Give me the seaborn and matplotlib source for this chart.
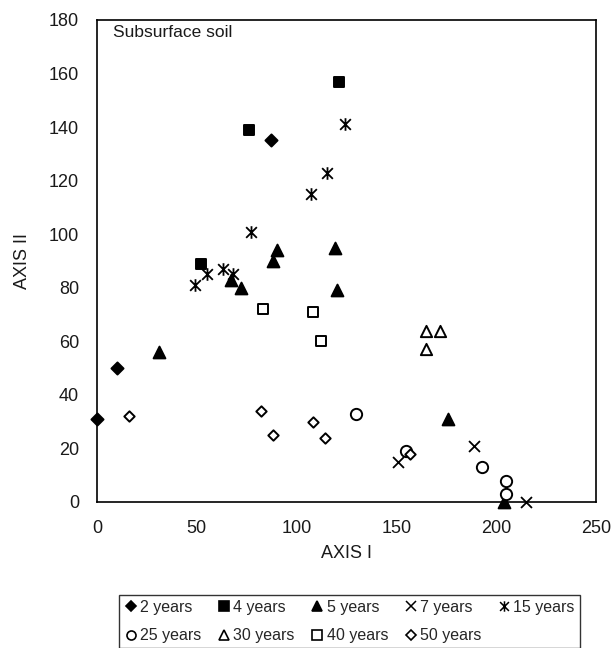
import numpy as np
import pandas as pd
import matplotlib
matplotlib.use("Agg")
import matplotlib.pyplot as plt
import seaborn as sns
from matplotlib.path import Path
from matplotlib.lines import Line2D

# Ordination scores (AXIS I, AXIS II) per fallow age
years_2_x = [0, 10, 87]
years_2_y = [31, 50, 135]
years_4_x = [52, 76, 121]
years_4_y = [89, 139, 157]
years_5_x = [31, 67, 72, 88, 90, 119, 120, 176, 204]
years_5_y = [56, 83, 80, 90, 94, 95, 79, 31, 0]
years_7_x = [151, 189, 215]
years_7_y = [15, 21, 0]
years_15_x = [49, 55, 63, 68, 77, 107, 115, 124]
years_15_y = [81, 85, 87, 85, 101, 115, 123, 141]
years_25_x = [130, 155, 193, 205, 205]
years_25_y = [33, 19, 13, 8, 3]
years_30_x = [165, 172, 165]
years_30_y = [64, 64, 57]
years_40_x = [83, 108, 112]
years_40_y = [72, 71, 60]
years_50_x = [16, 82, 88, 108, 114, 157]
years_50_y = [32, 34, 25, 30, 24, 18]

labels = ["2 years", "4 years", "5 years", "7 years", "15 years",
          "25 years", "30 years", "40 years", "50 years"]
xs = [years_2_x, years_4_x, years_5_x, years_7_x, years_15_x,
      years_25_x, years_30_x, years_40_x, years_50_x]
ys = [years_2_y, years_4_y, years_5_y, years_7_y, years_15_y,
      years_25_y, years_30_y, years_40_y, years_50_y]

# Excel style asterisk: an x with a vertical bar
asterisk = Path([(0, -1), (0, 1), (-0.85, -0.85), (0.85, 0.85), (-0.85, 0.85), (0.85, -0.85)],
                [Path.MOVETO, Path.LINETO, Path.MOVETO, Path.LINETO, Path.MOVETO, Path.LINETO])

# marker, scatter size, face colour (None = line art), legend marker size
styles = {
    "2 years": ("D", 38, "black", 5.0),
    "4 years": ("s", 58, "black", 6.5),
    "5 years": ("^", 72, "black", 7.0),
    "7 years": ("x", 62, None, 7.0),
    "15 years": (asterisk, 82, None, 7.5),
    "25 years": ("o", 66, "white", 6.5),
    "30 years": ("^", 66, "white", 7.0),
    "40 years": ("s", 56, "white", 6.5),
    "50 years": ("D", 28, "white", 5.0),
}

sns.set_style("white")
plt.rcParams["font.family"] = ["Liberation Sans", "DejaVu Sans"]

fig = plt.figure(figsize=(6.16, 6.48), dpi=100)
ax = fig.add_axes([97 / 616, 1 - 502 / 648, 499 / 616, 482 / 648])

for lab, x, y in zip(labels, xs, ys):
    df = pd.DataFrame({"AXIS I": x, "AXIS II": y})
    m, s, fc, _ = styles[lab]
    if fc is None:
        sns.scatterplot(data=df, x="AXIS I", y="AXIS II", marker=m, s=s,
                        color="black", edgecolor="black", linewidth=1.3,
                        ax=ax, zorder=3, clip_on=False)
    else:
        sns.scatterplot(data=df, x="AXIS I", y="AXIS II", marker=m, s=s,
                        facecolor=fc, edgecolor="black", linewidth=1.4,
                        ax=ax, zorder=3, clip_on=False)

ax.set_xlim(0, 250)
ax.set_ylim(0, 180)
ax.set_xticks(np.arange(0, 251, 50))
ax.set_yticks(np.arange(0, 181, 20))
ax.tick_params(direction="in", length=4, width=1, labelsize=13, pad=13,
               color="black", labelcolor="#1a1a1a")
for sp in ax.spines.values():
    sp.set_color("black")
    sp.set_linewidth(1.2)
ax.set_xlabel("AXIS I", fontsize=13, labelpad=6, color="#1a1a1a")
ax.set_ylabel("AXIS II", fontsize=13, labelpad=13, color="#1a1a1a")
ax.text(0.032, 0.99, "Subsurface soil", transform=ax.transAxes,
        fontsize=12.5, va="top", ha="left", color="#1a1a1a")

# legend, rows filled column-major by matplotlib
handles = []
for lab in labels:
    m, s, fc, ms = styles[lab]
    if fc is None:
        h = Line2D([], [], linestyle="none", marker=m, markersize=ms,
                   color="black", markeredgewidth=1.1, label=lab)
    else:
        h = Line2D([], [], linestyle="none", marker=m, markersize=ms,
                   markerfacecolor=fc, markeredgecolor="black",
                   markeredgewidth=1.2, label=lab)
    handles.append(h)
order = [0, 5, 1, 6, 2, 7, 3, 8, 4]
leg = fig.legend([handles[i] for i in order], [labels[i] for i in order],
                 ncol=5, loc="upper center",
                 bbox_to_anchor=(349.5 / 616, 1 - 595 / 648),
                 frameon=True, fancybox=False, edgecolor="black",
                 fontsize=11.5, handlelength=0.8, handletextpad=0.2,
                 columnspacing=1.0, borderpad=0.3, labelspacing=0.85,
                 borderaxespad=0)
leg.get_frame().set_linewidth(1.0)

fig.savefig("out.png", dpi=100)
